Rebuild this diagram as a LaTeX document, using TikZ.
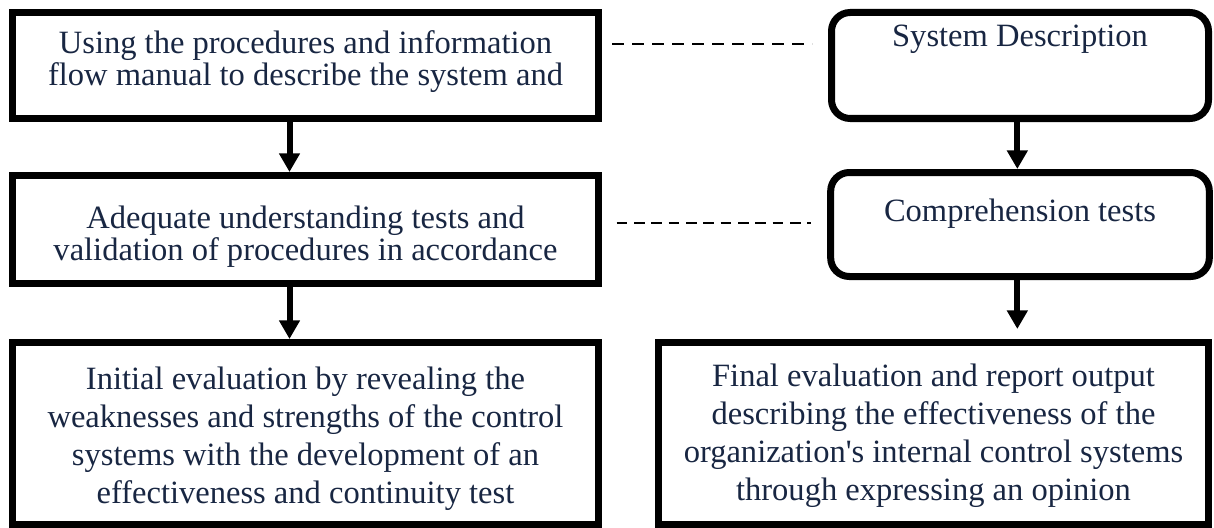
\documentclass[tikz,border=0pt]{standalone}
\usepackage{fontspec}
\setmainfont{Liberation Serif}
\usepackage{xcolor}
\usetikzlibrary{positioning, calc, arrows.meta}
\definecolor{textnavy}{RGB}{24,38,66}

\begin{document}
\begin{tikzpicture}[x=0.75pt, y=-0.75pt,
    box/.style={draw, line width=5.25pt, rectangle, align=center, inner sep=0pt,
        text=textnavy, font=\fontsize{24.4}{28.5}\selectfont},
    tightbox/.style={box, font=\fontsize{24.4}{24}\selectfont},
    roundbox/.style={box, rounded corners=14pt, text depth=22pt},
    flow/.style={line width=4.5pt, -{Triangle[width=15pt, length=14pt]}},
    link/.style={line width=2pt, dash pattern=on 9pt off 6pt}]
    \useasboundingbox (0,0) rectangle (1214,528);

    % Left column
    \node[tightbox, text depth=11pt, minimum width=439.5pt, minimum height=79.5pt] (Manual) at (305.5,65.5)
        {Using the procedures and information\\ flow manual to describe the system and};
    \node[tightbox, text height=52pt, minimum width=439.5pt, minimum height=81pt, below=37.5pt of Manual] (Adequate)
        {Adequate understanding tests and\\ validation of procedures in accordance};
    \node[box, text height=110pt, minimum width=439.5pt, minimum height=136.5pt, below=39pt of Adequate] (Initial)
        {Initial evaluation by revealing the\\ weaknesses and strengths of the control\\
         systems with the development of an\\ effectiveness and continuity test};

    % Right column
    \node[roundbox, text depth=45pt, minimum width=282.75pt, minimum height=79.5pt, right=169.5pt of Manual] (SysDesc)
        {System Description};
    \node[roundbox, minimum width=284pt, minimum height=78pt, below=35.25pt of SysDesc] (Compr)
        {Comprehension tests};
    \node[box, text height=106.5pt, minimum width=412.5pt, minimum height=136.5pt, right=39.75pt of Initial] (Final)
        {Final evaluation and report output\\ describing the effectiveness of the\\
         organization\textquotesingle s internal control systems\\ through expressing an opinion};

    % Flow arrows
    \draw[flow] ([xshift=-12pt]Manual.south) -- ([xshift=-12pt]Adequate.north);
    \draw[flow] ([xshift=-12pt]Adequate.south) -- ([xshift=-12pt]Initial.north);
    \draw[flow] ([xshift=-2pt]SysDesc.south) -- ([xshift=-2pt]Compr.north);
    \draw[flow, shorten >=7.5pt] ([xshift=-2pt]Compr.south) -- ([xshift=-2pt]Compr.south |- Final.north);

    % Dashed links
    \draw[link] ([xshift=7.5pt, yshift=16pt]Manual.east) -- ([xshift=-12pt, yshift=16pt]Manual.east -| SysDesc.west);
    \draw[link, line width=1.5pt, dash pattern=on 8pt off 5pt] ([xshift=11pt, yshift=5pt]Adequate.east) -- ([xshift=-12pt, yshift=5pt]Adequate.east -| Compr.west);
\end{tikzpicture}
\end{document}
